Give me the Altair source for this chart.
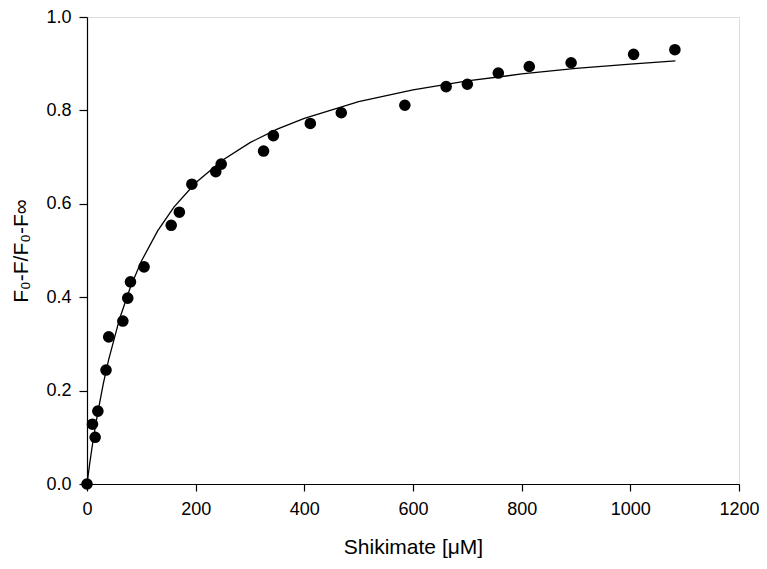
import altair as alt
import pandas as pd

# Measured points (Shikimate µM, normalized fluorescence change)
conc = [0, 10, 15, 20, 35, 40, 66, 75, 80, 105, 155, 170, 193, 237, 247,
        325, 343, 411, 468, 585, 661, 700, 757, 814, 891, 1006, 1082]
signal = [0.0, 0.128, 0.100, 0.156, 0.244, 0.315, 0.349, 0.398, 0.433, 0.465,
          0.554, 0.582, 0.642, 0.669, 0.685, 0.713, 0.746, 0.772, 0.795, 0.811,
          0.851, 0.856, 0.880, 0.894, 0.902, 0.920, 0.930]

# Fitted curve
curve_x = [0, 2.5, 5, 10, 15, 20, 30, 40, 60, 80, 100, 130, 160, 200, 250, 300,
           350, 400, 500, 600, 700, 800, 900, 1000, 1083]
curve_y = [0.0, 0.022, 0.044, 0.084, 0.12, 0.154, 0.215, 0.267, 0.354, 0.422,
           0.477, 0.542, 0.593, 0.645, 0.694, 0.731, 0.760, 0.783, 0.819, 0.844,
           0.863, 0.878, 0.890, 0.899, 0.906]

x_ticks = [0, 200, 400, 600, 800, 1000, 1200]
y_ticks = [0.0, 0.2, 0.4, 0.6, 0.8, 1.0]

pts = pd.DataFrame({"x": conc, "y": signal})
fit = pd.DataFrame({"x": curve_x, "y": curve_y})

FONT = "Liberation Sans"

xscale = alt.Scale(domain=[0, 1200], nice=False, zero=False)
yscale = alt.Scale(domain=[0, 1.0], nice=False, zero=False)

xaxis = alt.Axis(values=x_ticks, format="d", title="Shikimate [μM]", grid=False,
                 tickSize=7, labelPadding=9, titlePadding=18,
                 labelFontSize=18, titleFontSize=21, labelFont=FONT, titleFont=FONT,
                 titleFontWeight="normal", labelColor="black", titleColor="black",
                 domainColor="black", tickColor="black", domainWidth=1.2, tickWidth=1.2,
                 labelFlush=False)
yaxis = alt.Axis(values=y_ticks, format=".1f", title="F₀-F/F₀-F∞", grid=False,
                 tickSize=8, labelPadding=8, titlePadding=14,
                 labelFontSize=18, titleFontSize=21, labelFont=FONT, titleFont=FONT,
                 titleFontWeight="normal", labelColor="black", titleColor="black",
                 domainColor="black", tickColor="black", domainWidth=1.2, tickWidth=1.2,
                 labelFlush=False)

line = alt.Chart(fit).mark_line(color="black", strokeWidth=1.3).encode(
    x=alt.X("x:Q", scale=xscale, axis=xaxis),
    y=alt.Y("y:Q", scale=yscale, axis=yaxis),
)

dots = alt.Chart(pts).mark_point(filled=True, shape="circle", size=135,
                                 color="black", opacity=1).encode(
    x=alt.X("x:Q", scale=xscale),
    y=alt.Y("y:Q", scale=yscale),
)

chart = alt.layer(line, dots).properties(
    width=652, height=467,
    autosize=alt.AutoSizeParams(type="none"),
    padding={"left": 79, "top": 9, "right": 20, "bottom": 76},
).configure_view(stroke=None).configure(background="white")

chart.save("out.html", embed_options={"renderer": "svg", "actions": False})
